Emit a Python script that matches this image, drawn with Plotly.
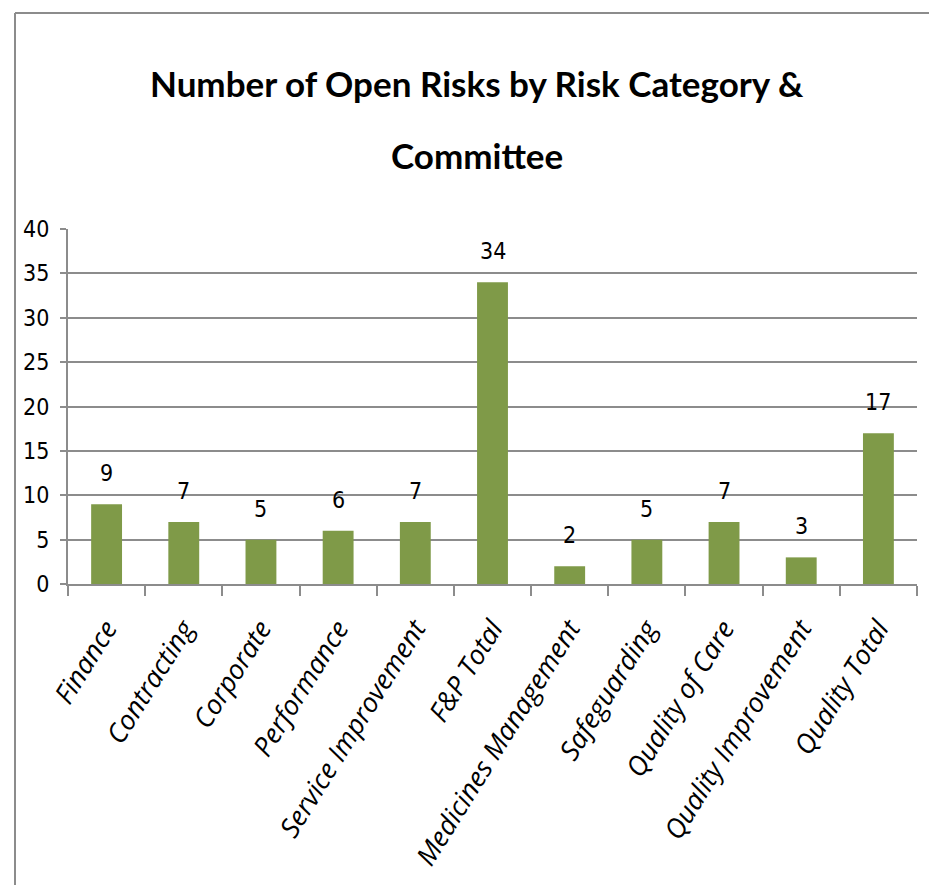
import plotly.graph_objects as go

categories = ["Finance", "Contracting", "Corporate", "Performance", "Service Improvement",
              "F&P Total", "Medicines Management", "Safeguarding", "Quality of Care",
              "Quality Improvement", "Quality Total"]
values = [9, 7, 5, 6, 7, 34, 2, 5, 7, 3, 17]
title_lines = ["Number of Open Risks by Risk Category &", "Committee"]
y_ticks = [0, 5, 10, 15, 20, 25, 30, 35, 40]

NUMFONT = "DejaVu Sans Condensed, sans-serif"
TITLEFONT = "Lato, sans-serif"
GRID = "#8c8c8c"
BAR = "#7f9a48"

L, R, T, B = 68, 12, 229, 301
W, H = 929, 885
pw, ph = W - L - R, H - T - B

def px_x(x):
    return (x - L) / pw

def px_y(y):
    return (H - B - y) / ph

fig = go.Figure(go.Bar(x=categories, y=values, marker=dict(color=BAR, line=dict(width=0)),
                       width=0.4, hoverinfo="x+y"))

annotations = []
for c, v in zip(categories, values):
    annotations.append(dict(x=c, y=v, xref="x", yref="y", text=str(v), showarrow=False,
                            yanchor="middle", yshift=31,
                            font=dict(family=NUMFONT, size=23, color="black")))
for line, ypx in zip(title_lines, [83, 155]):
    annotations.append(dict(x=px_x(477), y=px_y(ypx), xref="paper", yref="paper", text=line,
                            showarrow=False, xanchor="center", yanchor="middle",
                            font=dict(family=TITLEFONT, size=35, color="black", weight="bold")))

shapes = [
    dict(type="line", xref="paper", yref="paper", x0=px_x(15), y0=px_y(13), x1=px_x(935), y1=px_y(13),
         line=dict(color=GRID, width=2)),
    dict(type="line", xref="paper", yref="paper", x0=px_x(15), y0=px_y(13), x1=px_x(15), y1=px_y(890),
         line=dict(color=GRID, width=2)),
]

fig.update_layout(
    width=W, height=H,
    margin=dict(l=L, r=R, t=T, b=B, autoexpand=False),
    paper_bgcolor="white", plot_bgcolor="white",
    showlegend=False,
    annotations=annotations,
    shapes=shapes,
    xaxis=dict(type="category", tickson="boundaries", ticks="outside", ticklen=10, tickwidth=2,
               tickcolor=GRID, showline=True, linecolor=GRID, linewidth=2, showgrid=False,
               automargin=False, ticklabelstandoff=16,
               tickangle=-58, tickfont=dict(family="Open Sans, sans-serif", size=27, color="black", style="italic")),
    yaxis=dict(range=[0, 40], tickvals=y_ticks, ticks="outside", ticklen=6, tickwidth=2,
               tickcolor=GRID, showline=True, linecolor=GRID, linewidth=2, showgrid=True,
               gridcolor=GRID, gridwidth=2, zeroline=False, automargin=False, ticklabelstandoff=6,
               tickfont=dict(family=NUMFONT, size=23, color="black")),
)

fig.write_html("out.html", config={"displayModeBar": False},
               post_script="document.body.style.margin='0';document.body.style.padding='0';")
